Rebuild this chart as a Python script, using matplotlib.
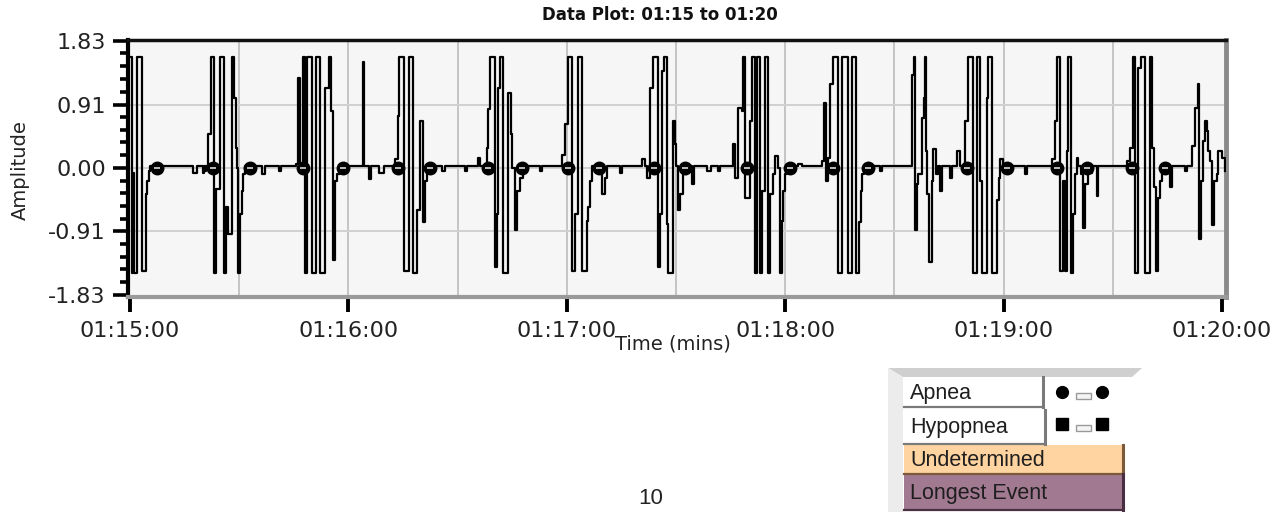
import matplotlib
matplotlib.use("Agg")
import matplotlib.pyplot as plt
from matplotlib.patches import Rectangle, Polygon
from matplotlib.ticker import FixedLocator

# ---------------- data (seconds after 01:15:00, amplitude) ----------------
signal_t = [0, 0.55, 0.9, 1.1, 1.92, 3.3, 4.4, 4.8, 5.2, 5.5,
            17.3, 18.4, 20.0, 20.4,
            20.6, 21.0, 21.4, 22.3, 23.1, 23.6, 24.7, 25.8, 26.3, 26.9, 28.0, 28.7, 29.0, 29.3,
            29.8, 30.2, 30.7, 31.1, 31.6,
            36.3, 37.1, 41.0, 41.6,
            45.5, 46.2, 46.7, 47.5, 48.1, 48.6, 50.0, 51.1, 52.2, 53.6, 54.7, 55.2, 55.8, 56.3,
            56.9, 57.7,
            64.0, 64.3, 65.7, 66.2, 68.5, 69.8,
            72.8, 73.6, 73.9, 75.3, 76.6, 77.7, 78.8, 79.7, 80.5, 81.0, 81.6,
            85.7, 86.5, 92.0, 92.6,
            95.6, 96.2, 98.1, 98.4, 98.9, 100.3, 100.8, 101.1, 101.6, 102.5, 103.8, 104.7, 104.9,
            105.8, 106.3, 107.1, 108.0,
            112.6, 113.2,
            118.6, 119.5, 120.2, 121.5, 122.3, 123.0, 124.1, 125.5, 125.9, 126.4, 126.8,
            129.7, 130.5, 131.0, 134.6, 135.3,
            140.6, 141.5, 141.9, 142.9, 143.8, 145.1, 145.6, 146.1, 146.7, 147.6, 147.9, 149.1,
            149.7, 150.0, 150.6, 151.1, 152.0, 152.9, 154.3, 155.0,
            158.5, 159.5, 161.5, 162.0,
            165.7, 166.2, 167.1, 168.0, 168.5, 169.0, 170.3, 171.0, 171.7, 172.2, 173.1, 173.7,
            174.5, 175.4, 175.8, 176.7, 177.2, 178.1, 178.6, 179.0, 179.5, 179.9, 180.4,
            183.5, 184.5,
            190.0, 190.7, 191.1, 191.8, 192.3, 193.0, 194.6, 195.7, 197.3, 198.4, 199.5, 200.3,
            200.8, 201.2, 201.7,
            206.0, 206.6,
            214.7, 215.4, 215.7, 216.1, 216.6, 217.5, 218.1, 218.4, 218.7, 219.0, 219.6, 220.2,
            220.7, 221.4, 222.1, 222.5, 223.0, 225.3, 225.7, 227.1, 228.0,
            229.4, 230.1, 231.5, 232.6, 233.5, 234.0, 235.4, 235.8, 236.7, 238.1, 238.6, 239.0,
            239.9, 245.9, 246.5,
            253.2, 254.1, 254.6, 255.5, 256.4, 256.9, 257.3, 257.6, 258.5, 259.2, 259.6, 260.1,
            260.5, 261.4, 261.9, 262.4, 263.3, 264.2, 265.6, 266.0,
            273.8, 274.7, 275.6, 276.1, 276.8, 277.7, 278.8, 280.2, 280.8, 281.4, 281.8, 282.3,
            283.0, 283.4, 285.7, 286.3,
            289.8, 290.5, 291.7, 292.6, 293.3, 293.7, 294.2, 294.9, 295.3, 295.8, 296.2, 296.7,
            297.2, 297.9, 298.6, 299.0, 300.0, 300.8]

signal_v = [1.60, -1.51, -0.07, -1.51, 1.60, -1.48, -0.38, -0.19, -0.05, 0.02,
            -0.07, 0.02, -0.07, 0.02,
            -0.05, 0.02, 0.48, 1.60, -1.51, -0.30, 1.60, -1.51, -0.57, -0.95, 1.60, 1.01, 0.29, 0.0,
            -1.51, -0.66, -0.33, -0.09, 0.02,
            -0.09, 0.02, -0.05, 0.02,
            0.06, 1.29, 0.02, 1.60, -1.51, 1.60, -1.51, 1.60, -1.51, 1.15, 1.60, 0.82, -1.33, -0.19,
            -0.09, 0.02,
            1.52, 0.02, -0.16, 0.02, -0.07, 0.02,
            0.12, 0.74, 1.60, -1.48, 1.60, -1.51, -0.61, 0.67, -0.78, -0.19, 0.02,
            -0.05, 0.02, -0.04, 0.02,
            0.14, 0.02, 0.29, 0.84, 1.60, -1.43, -0.66, 1.15, 1.60, -1.51, 1.08, 0.48, 0.0,
            -0.90, -0.33, -0.14, 0.02,
            -0.05, 0.02,
            0.19, 0.63, 1.60, -1.48, -0.66, 1.60, -1.48, -0.76, -0.57, -0.19, 0.02,
            -0.38, -0.14, 0.02, -0.07, 0.02,
            0.12, 0.02, -0.14, 1.15, 1.60, -1.43, -0.66, 1.39, 1.60, -0.81, -1.51, 0.67,
            0.34, 0.02, -0.61, -0.38, -0.09, 0.02, -0.23, 0.02,
            -0.05, 0.02, -0.04, 0.02,
            0.34, -0.14, 0.86, 0.82, 1.60, -0.43, 0.67, 1.60, -1.51, 1.60, -1.51, -0.33,
            1.60, -1.51, -0.38, -0.09, 0.17, 0.0, -1.51, -0.76, -0.33, -0.09, 0.02,
            0.05, 0.02,
            0.10, 0.93, -0.19, 0.14, 1.20, 1.60, -1.51, 1.60, -1.51, 1.60, -1.51, -0.78,
            -0.33, -0.09, 0.02,
            -0.05, 0.02,
            1.34, 1.60, -0.90, -0.23, -0.09, 0.72, 1.01, 1.60, 0.24, -0.38, -1.36, -0.19,
            0.27, -0.09, 0.02, -0.33, 0.02, -0.14, 0.02, 0.24, 0.02,
            0.67, 1.60, -1.51, 1.60, -0.19, -1.51, 1.01, 1.60, -1.51, -0.47, -0.14, 0.12,
            0.02, -0.09, 0.02,
            0.12, 0.67, 1.60, -1.48, -0.19, -1.48, 0.24, 1.60, -1.51, -0.66, -0.09, 0.14,
            0.02, -0.09, -0.86, -0.23, -0.07, 0.02, -0.40, 0.02,
            0.10, 0.29, 1.60, -1.51, 1.44, 1.60, -1.51, 1.60, 0.29, -0.28, -1.48, -0.43,
            -0.19, 0.02, -0.28, 0.02,
            -0.05, 0.02, 0.32, 0.86, 1.20, -1.02, -0.19, 0.39, 0.67, 0.53, 0.24, 0.10,
            -0.83, -0.19, -0.09, 0.24, 0.14, -0.05]

apnea_t = [7.4, 22.8, 33.0, 47.5, 58.5, 73.6, 82.4, 98.4, 107.7, 120.3, 128.8, 144.0,
           152.5, 169.5, 181.3, 193.1, 202.7, 229.9, 240.9, 254.7, 262.9, 275.3, 284.3]

x_tick_sec = [0, 60, 120, 180, 240, 300]
x_tick_labels = ["01:15:00", "01:16:00", "01:17:00", "01:18:00", "01:19:00", "01:20:00"]
y_ticks = [-1.83, -0.91, 0.0, 0.91, 1.83]
y_tick_labels = ["-1.83", "-0.91", "0.00", "0.91", "1.83"]

legend_labels = ["Apnea", "Hypopnea", "Undetermined", "Longest Event"]

# ---------------- figure ----------------
W, H = 1279, 512
fig = plt.figure(figsize=(W / 100, H / 100), dpi=100)
fig.patch.set_facecolor("white")

ax = fig.add_axes([128 / W, 1 - 297 / H, (1226 - 128) / W, (297 - 40) / H])
ax.set_facecolor("#f6f6f6")
ax.set_xlim(-0.55, 301.1)
ax.set_ylim(-1.86, 1.84)

ax.plot(signal_t, signal_v, drawstyle="steps-post", color="black", lw=1.6, zorder=3)
ax.plot(apnea_t, [0] * len(apnea_t), linestyle="none", marker="o", ms=9,
        mfc="black", mec="black", zorder=4)
ax.plot(apnea_t, [0] * len(apnea_t), linestyle="none", marker="_", ms=5, mew=1.4,
        color="#bbbbbb", zorder=5)

# grid
for g in range(30, 300, 30):
    ax.axvline(g, color="#c4c4c4", lw=1.4, zorder=1)
for g in [-0.91, 0.0, 0.91]:
    ax.axhline(g, color="#d0d0d0", lw=1.4, zorder=1)

ax.set_xticks(x_tick_sec)
ax.set_xticklabels(x_tick_labels, fontsize=16, family="DejaVu Sans", color="#222222")
ax.set_yticks(y_ticks)
ax.set_yticklabels(y_tick_labels, fontsize=16, family="DejaVu Sans", color="#222222")
ax.yaxis.set_minor_locator(FixedLocator([m * 0.183 - 1.83 for m in range(21) if m % 5 != 0]))
ax.xaxis.set_minor_locator(FixedLocator([]))
ax.tick_params(axis="y", which="major", length=11, width=2.6, pad=5, color="black")
ax.tick_params(axis="y", which="minor", length=6, width=2.6, color="black")
ax.tick_params(axis="x", which="major", length=11, width=2.8, pad=6, color="black")

for side, col, lw in [("left", "black", 3), ("top", "#111111", 2.5),
                      ("right", "#8a8a8a", 3.5), ("bottom", "#9a9a9a", 3)]:
    ax.spines[side].set_color(col)
    ax.spines[side].set_linewidth(lw)

# titles / labels
fig.text(660 / W, 1 - 15 / H, "Data Plot: 01:15 to 01:20", ha="center", va="center",
         fontsize=12, fontweight="bold", family="DejaVu Sans", color="#111111")
fig.text(673 / W, 1 - 344 / H, "Time (mins)", ha="center", va="center",
         fontsize=14, family="DejaVu Sans", color="#222222")
fig.text(20 / W, 1 - 170 / H, "Amplitude", ha="center", va="center", rotation=90,
         fontsize=14, family="DejaVu Sans", color="#222222")
fig.text(651 / W, 1 - 499 / H, "10", ha="center", va="center",
         fontsize=16, family="Liberation Sans", color="#222222")

# ---------------- legend widget (pixel layout) ----------------
lax = fig.add_axes([0, 0, 1, 1], zorder=10)
lax.set_xlim(0, W)
lax.set_ylim(H, 0)
lax.axis("off")
lax.patch.set_alpha(0)

lax.add_patch(Polygon([(888, 368), (1142, 368), (1132, 377), (903, 377)],
                      closed=True, fc="#cfcfcf", ec="none"))
lax.add_patch(Polygon([(888, 368), (903, 377), (903, 512), (888, 512)],
                      closed=True, fc="#ececec", ec="none"))

rows = [(377, 30, 139, "white", "#7a7a7a"),
        (410, 34, 141, "white", "#7a7a7a"),
        (445, 29, 219, "#ffd4a0", "#7a5a3a"),
        (474, 36, 219, "#a17a91", "#4a2e42")]
for (y0, h, w, fc, ec), lab in zip(rows, legend_labels):
    lax.add_patch(Rectangle((904, y0), w, h, fc=fc, ec="none"))
    lax.plot([904 + w, 904 + w], [y0, y0 + h], color=ec, lw=2.2)
    lax.plot([904, 904 + w], [y0 + h, y0 + h], color=ec, lw=1.6)
    lax.text(910, y0 + h / 2 + 1, lab, ha="left", va="center", fontsize=15.5,
             family="Liberation Sans", color="#1e1e1e")

for ymid, mk in [(392, "o"), (424, "s")]:
    lax.plot([1062, 1102], [ymid, ymid], linestyle="none", marker=mk, ms=8.5,
             mfc="black", mec="black")
    lax.add_patch(Rectangle((1076, ymid + 0.5), 15, 6, fc="#f4f4f4", ec="#9a9a9a", lw=1))

fig.savefig("out.png", dpi=100)
